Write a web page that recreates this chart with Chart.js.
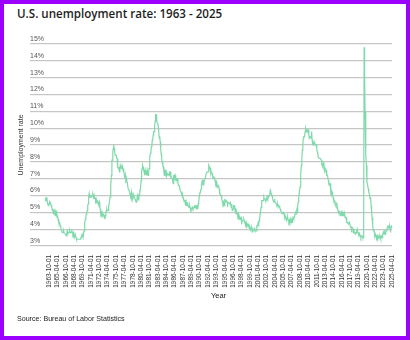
<!DOCTYPE html>
<html>
<head>
<meta charset="utf-8">
<script src="https://cdn.jsdelivr.net/npm/chart.js@4.4.1/dist/chart.umd.min.js"></script>
<style>
  html, body { margin: 0; padding: 0; background: #fff; }
  #card { position: relative; width: 410px; height: 340px; overflow: hidden; background: #fff; }
  #chart { position: absolute; left: 0; top: 0; }
  #frame {
    position: absolute; left: 0; top: 0; width: 410px; height: 340px;
    box-sizing: border-box; border: 4px solid #9b00ff; pointer-events: none;
  }
  h1 {
    position: absolute; left: 17px; top: 6px; margin: 0;
    font: 600 11.6px "Open Sans", sans-serif; color: #1e1e1e;
  }
  .source {
    position: absolute; left: 17px; top: 315px;
    font: 7.1px "Liberation Sans", Arial, sans-serif; color: #222;
  }
</style>
</head>
<body>
<div id="card">
  <h1>U.S. unemployment rate: 1963 - 2025</h1>
  <canvas id="chart" width="410" height="340"></canvas>
  <div class="source">Source: Bureau of Labor Statistics</div>
  <div id="frame"></div>
</div>
<script>
// monthly civilian unemployment rate, seasonally adjusted (%)
const startYear = 1963;
const rates = [
  5.7, 5.9, 5.7, 5.7, 5.9, 5.6, 5.6, 5.4, 5.5, 5.5, 5.7, 5.5, // 1963
  5.6, 5.4, 5.4, 5.3, 5.1, 5.2, 4.9, 5.0, 5.1, 5.1, 4.8, 5.0, // 1964
  4.9, 5.1, 4.7, 4.8, 4.6, 4.6, 4.4, 4.4, 4.3, 4.2, 4.1, 4.0, // 1965
  4.0, 3.8, 3.8, 3.8, 3.9, 3.8, 3.8, 3.8, 3.7, 3.7, 3.6, 3.8, // 1966
  3.9, 3.8, 3.8, 3.8, 3.8, 3.9, 3.8, 3.8, 3.8, 4.0, 3.9, 3.8, // 1967
  3.7, 3.8, 3.7, 3.5, 3.5, 3.7, 3.7, 3.5, 3.4, 3.4, 3.4, 3.4, // 1968
  3.4, 3.4, 3.4, 3.4, 3.4, 3.5, 3.5, 3.5, 3.7, 3.7, 3.5, 3.5, // 1969
  3.9, 4.2, 4.4, 4.6, 4.8, 4.9, 5.0, 5.1, 5.4, 5.5, 5.9, 6.1, // 1970
  5.9, 5.9, 6.0, 5.9, 5.9, 5.9, 6.0, 6.1, 6.0, 5.8, 6.0, 6.0, // 1971
  5.8, 5.7, 5.8, 5.7, 5.7, 5.7, 5.6, 5.6, 5.5, 5.6, 5.3, 5.2, // 1972
  4.9, 5.0, 4.9, 5.0, 4.9, 4.9, 4.8, 4.8, 4.8, 4.6, 4.8, 4.9, // 1973
  5.1, 5.2, 5.1, 5.1, 5.1, 5.4, 5.5, 5.5, 5.9, 6.0, 6.6, 7.2, // 1974
  8.1, 8.1, 8.6, 8.8, 9.0, 8.8, 8.6, 8.4, 8.4, 8.4, 8.3, 8.2, // 1975
  7.9, 7.7, 7.6, 7.7, 7.4, 7.6, 7.8, 7.8, 7.6, 7.7, 7.8, 7.8, // 1976
  7.5, 7.6, 7.4, 7.2, 7.0, 7.2, 6.9, 7.0, 6.8, 6.8, 6.8, 6.4, // 1977
  6.4, 6.3, 6.3, 6.1, 6.0, 5.9, 6.2, 5.9, 6.0, 5.8, 5.9, 6.0, // 1978
  5.9, 5.9, 5.8, 5.8, 5.6, 5.7, 5.7, 6.0, 5.9, 6.0, 5.9, 6.0, // 1979
  6.3, 6.3, 6.3, 6.9, 7.5, 7.6, 7.8, 7.7, 7.5, 7.5, 7.5, 7.2, // 1980
  7.5, 7.4, 7.4, 7.2, 7.5, 7.5, 7.2, 7.4, 7.6, 7.9, 8.3, 8.5, // 1981
  8.6, 8.9, 9.0, 9.3, 9.4, 9.6, 9.8, 9.8, 10.1, 10.4, 10.8, 10.8, // 1982
  10.4, 10.4, 10.3, 10.2, 10.1, 10.1, 9.4, 9.5, 9.2, 8.8, 8.5, 8.3, // 1983
  8.0, 7.8, 7.8, 7.7, 7.4, 7.2, 7.5, 7.5, 7.3, 7.4, 7.2, 7.3, // 1984
  7.3, 7.2, 7.2, 7.3, 7.2, 7.4, 7.4, 7.1, 7.1, 7.1, 7.0, 7.0, // 1985
  6.7, 7.2, 7.2, 7.1, 7.2, 7.2, 7.0, 6.9, 7.0, 7.0, 6.9, 6.6, // 1986
  6.6, 6.6, 6.6, 6.3, 6.3, 6.2, 6.1, 6.0, 5.9, 6.0, 5.8, 5.7, // 1987
  5.7, 5.7, 5.7, 5.4, 5.6, 5.4, 5.4, 5.6, 5.4, 5.4, 5.3, 5.3, // 1988
  5.4, 5.2, 5.0, 5.2, 5.2, 5.3, 5.2, 5.2, 5.3, 5.3, 5.4, 5.4, // 1989
  5.4, 5.3, 5.2, 5.4, 5.4, 5.2, 5.5, 5.7, 5.9, 5.9, 6.2, 6.3, // 1990
  6.4, 6.6, 6.8, 6.7, 6.9, 6.9, 6.8, 6.9, 6.9, 7.0, 7.0, 7.3, // 1991
  7.3, 7.4, 7.4, 7.4, 7.6, 7.8, 7.7, 7.6, 7.6, 7.3, 7.4, 7.4, // 1992
  7.3, 7.1, 7.0, 7.1, 7.1, 7.0, 6.9, 6.8, 6.7, 6.8, 6.6, 6.5, // 1993
  6.6, 6.6, 6.5, 6.4, 6.1, 6.1, 6.1, 6.0, 5.9, 5.8, 5.6, 5.5, // 1994
  5.6, 5.4, 5.4, 5.8, 5.6, 5.6, 5.7, 5.7, 5.6, 5.5, 5.6, 5.6, // 1995
  5.6, 5.5, 5.5, 5.6, 5.6, 5.3, 5.5, 5.1, 5.2, 5.2, 5.4, 5.4, // 1996
  5.3, 5.2, 5.2, 5.1, 4.9, 5.0, 4.9, 4.8, 4.9, 4.7, 4.6, 4.7, // 1997
  4.6, 4.6, 4.7, 4.3, 4.4, 4.5, 4.5, 4.5, 4.6, 4.5, 4.4, 4.4, // 1998
  4.3, 4.4, 4.2, 4.3, 4.2, 4.3, 4.3, 4.2, 4.2, 4.1, 4.1, 4.0, // 1999
  4.0, 4.1, 4.0, 3.8, 4.0, 4.0, 4.0, 4.1, 3.9, 3.9, 3.9, 3.9, // 2000
  4.2, 4.2, 4.3, 4.4, 4.3, 4.5, 4.6, 4.9, 5.0, 5.3, 5.5, 5.7, // 2001
  5.7, 5.7, 5.7, 5.9, 5.8, 5.8, 5.8, 5.7, 5.7, 5.7, 5.9, 6.0, // 2002
  5.8, 5.9, 5.9, 6.0, 6.1, 6.3, 6.2, 6.1, 6.1, 6.0, 5.8, 5.7, // 2003
  5.7, 5.6, 5.8, 5.6, 5.6, 5.6, 5.5, 5.4, 5.4, 5.5, 5.4, 5.4, // 2004
  5.3, 5.4, 5.2, 5.2, 5.1, 5.0, 5.0, 4.9, 5.0, 5.0, 5.0, 4.9, // 2005
  4.7, 4.8, 4.7, 4.7, 4.6, 4.6, 4.7, 4.7, 4.5, 4.4, 4.5, 4.4, // 2006
  4.6, 4.5, 4.4, 4.5, 4.4, 4.6, 4.7, 4.6, 4.7, 4.7, 4.7, 5.0, // 2007
  5.0, 4.9, 5.1, 5.0, 5.4, 5.6, 5.8, 6.1, 6.1, 6.5, 6.8, 7.3, // 2008
  7.8, 8.3, 8.7, 9.0, 9.4, 9.5, 9.5, 9.6, 9.8, 10.0, 9.9, 9.9, // 2009
  9.8, 9.8, 9.9, 9.9, 9.6, 9.4, 9.4, 9.5, 9.5, 9.4, 9.8, 9.3, // 2010
  9.1, 9.0, 9.0, 9.1, 9.0, 9.1, 9.0, 9.0, 9.0, 8.8, 8.6, 8.5, // 2011
  8.3, 8.3, 8.2, 8.2, 8.2, 8.2, 8.2, 8.1, 7.8, 7.8, 7.7, 7.9, // 2012
  8.0, 7.7, 7.5, 7.6, 7.5, 7.5, 7.3, 7.2, 7.2, 7.2, 6.9, 6.7, // 2013
  6.6, 6.7, 6.7, 6.2, 6.3, 6.1, 6.2, 6.1, 5.9, 5.7, 5.8, 5.6, // 2014
  5.7, 5.5, 5.4, 5.4, 5.6, 5.3, 5.2, 5.1, 5.0, 5.0, 5.1, 5.0, // 2015
  4.8, 4.9, 5.0, 5.1, 4.8, 4.9, 4.8, 4.9, 5.0, 4.9, 4.7, 4.7, // 2016
  4.7, 4.6, 4.4, 4.4, 4.4, 4.3, 4.3, 4.4, 4.3, 4.2, 4.2, 4.1, // 2017
  4.0, 4.1, 4.0, 4.0, 3.8, 4.0, 3.8, 3.8, 3.7, 3.8, 3.8, 3.9, // 2018
  4.0, 3.8, 3.8, 3.7, 3.6, 3.6, 3.7, 3.6, 3.5, 3.6, 3.6, 3.6, // 2019
  3.5, 3.5, 4.4, 14.8, 13.2, 11.0, 10.2, 8.4, 7.8, 6.8, 6.7, 6.7, // 2020
  6.4, 6.2, 6.1, 6.1, 5.8, 5.9, 5.4, 5.1, 4.7, 4.5, 4.2, 3.9, // 2021
  4.0, 3.8, 3.6, 3.7, 3.6, 3.6, 3.5, 3.6, 3.5, 3.6, 3.6, 3.5, // 2022
  3.5, 3.6, 3.5, 3.4, 3.6, 3.6, 3.5, 3.7, 3.8, 3.9, 3.7, 3.8, // 2023
  3.7, 3.9, 3.9, 3.9, 4.0, 4.1, 4.2, 4.2, 4.1, 4.1, 4.2, 4.1, // 2024
  4.0, 4.1, 4.2, 4.2 // 2025
];

// one label per month, YYYY-MM-01
const labels = rates.map((_, i) => {
  const y = startYear + Math.floor(i / 12);
  const m = String(i % 12 + 1).padStart(2, '0');
  return y + '-' + m + '-01';
});

// date labels every 18 months, counted back from the last month
const tickStep = 18;
const tickStart = (rates.length - 1) % tickStep;

const yTicks = { min: 3, max: 15, step: 1 };

const ctx = document.getElementById('chart');
new Chart(ctx, {
  type: 'line',
  data: {
    labels: labels,
    datasets: [{
      data: rates,
      borderColor: '#7fd9ab',
      borderWidth: 1.2,
      pointRadius: 0,
      tension: 0,
      fill: false
    }]
  },
  options: {
    responsive: false,
    animation: false,
    layout: { padding: { left: 10, right: 18, top: 44, bottom: 39 } },
    plugins: {
      legend: { display: false },
      tooltip: { enabled: false }
    },
    scales: {
      x: {
        grid: { display: false },
        border: { display: false },
        afterBuildTicks: (scale) => {
          scale.ticks = scale.ticks.filter(t => t.value % tickStep === tickStart);
        },
        afterFit: (scale) => { scale.height = 55; },
        ticks: {
          autoSkip: false,
          minRotation: 90,
          maxRotation: 90,
          padding: 1,
          color: '#333',
          font: { family: 'Liberation Sans', size: 6.4 }
        },
        title: {
          display: true,
          text: 'Year',
          color: '#222',
          font: { family: 'Liberation Sans', size: 7.5 },
          padding: { top: 0, bottom: 1 }
        }
      },
      y: {
        min: yTicks.min,
        max: yTicks.max,
        afterFit: (scale) => { scale.width = 35; },
        grid: { color: '#c6c6c6', lineWidth: 1.2, tickLength: 15, drawTicks: true },
        border: { display: false },
        ticks: {
          stepSize: yTicks.step,
          mirror: true,
          padding: -15,
          labelOffset: -5,
          color: '#555',
          font: { family: 'Liberation Sans', size: 7 },
          callback: (v) => v + '%'
        },
        title: {
          display: true,
          text: 'Unemployment rate',
          color: '#333',
          font: { family: 'Liberation Sans', size: 7 },
          padding: { top: 7, bottom: 0 }
        }
      }
    }
  }
});
</script>
</body>
</html>
